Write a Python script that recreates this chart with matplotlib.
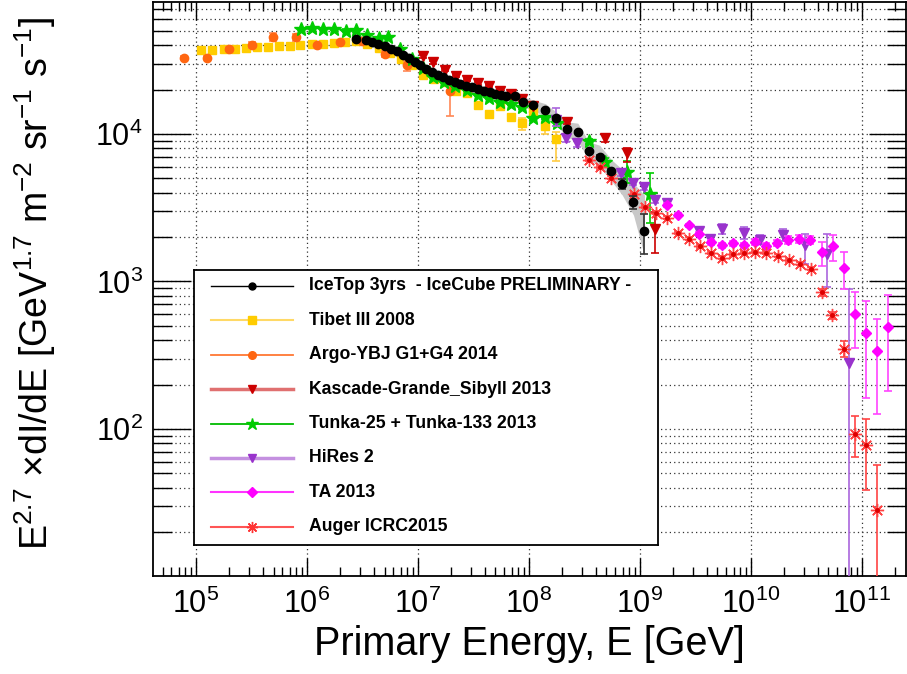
import numpy as np
import matplotlib
matplotlib.use("Agg")
import matplotlib.pyplot as plt
from matplotlib.ticker import LogLocator, LogFormatterSciNotation, NullFormatter, FixedLocator

plt.rcParams['font.family'] = ['Liberation Sans', 'DejaVu Sans']
plt.rcParams['mathtext.fontset'] = 'custom'
plt.rcParams['mathtext.rm'] = 'Liberation Sans'
plt.rcParams['mathtext.it'] = 'Liberation Sans:italic'
plt.rcParams['mathtext.bf'] = 'Liberation Sans:bold'

# ---- data (E in GeV, flux E^2.7 dI/dE) ----
icetopE = [2.79e6, 3.39e6, 3.89e6, 4.41e6, 5.02e6, 5.69e6, 6.44e6, 7.35e6, 8.32e6, 9.36e6,
           1.05e7, 1.18e7, 1.33e7, 1.51e7, 1.68e7, 1.91e7, 2.14e7, 2.41e7, 2.73e7, 3.05e7,
           3.48e7, 3.91e7, 4.43e7, 4.99e7, 5.60e7, 6.26e7, 7.43e7, 8.84e7, 1.10e8, 1.41e8,
           1.77e8, 2.22e8, 2.76e8, 3.47e8, 4.33e8, 5.52e8, 6.93e8, 8.76e8, 1.10e9]
icetopF = [4.41e4, 4.31e4, 4.21e4, 4.08e4, 3.93e4, 3.77e4, 3.63e4, 3.45e4, 3.27e4, 3.06e4,
           2.92e4, 2.76e4, 2.63e4, 2.52e4, 2.42e4, 2.33e4, 2.27e4, 2.19e4, 2.12e4, 2.08e4,
           2.01e4, 1.97e4, 1.92e4, 1.87e4, 1.84e4, 1.80e4, 1.81e4, 1.66e4, 1.57e4, 1.46e4,
           1.28e4, 1.08e4, 1.03e4, 7.7e3, 7.0e3, 5.6e3, 4.6e3, 3.44e3, 2.20e3]
icetopErrUp = [0.02] * 34 + [0.03, 0.04, 0.08, 0.10, 0.31]
icetopErrDn = [0.02] * 34 + [0.03, 0.04, 0.08, 0.10, 0.30]
# systematic band (fraction above / below)
icetopBandUp = [0.08] * 29 + [0.10, 0.10, 0.12, 0.15, 0.15, 0.20, 0.20, 0.25, 0.35, 0.75]
icetopBandDn = [0.08] * 29 + [0.10, 0.10, 0.12, 0.13, 0.13, 0.14, 0.14, 0.16, 0.18, 0.32]

tibetE = [1.11e5, 1.40e5, 1.79e5, 2.23e5, 2.82e5, 3.56e5, 4.48e5, 5.59e5, 7.02e5, 8.75e5,
          1.11e6, 1.39e6, 1.76e6, 2.21e6, 2.79e6, 3.51e6, 4.43e6, 5.57e6, 7.10e6, 8.90e6,
          1.10e7, 1.39e7, 1.74e7, 2.19e7, 2.77e7, 3.48e7, 4.37e7, 5.49e7, 6.94e7, 8.72e7,
          1.10e8, 1.41e8, 1.75e8]
tibetF = [3.73e4, 3.73e4, 3.77e4, 3.79e4, 3.83e4, 3.89e4, 3.91e4, 3.95e4, 3.95e4, 4.01e4,
          4.05e4, 4.09e4, 4.13e4, 4.18e4, 4.25e4, 4.07e4, 3.83e4, 3.57e4, 3.22e4, 2.93e4,
          2.52e4, 2.36e4, 2.24e4, 1.97e4, 1.91e4, 1.58e4, 1.37e4, 1.55e4, 1.31e4, 1.19e4,
          1.40e4, 1.13e4, 9.2e3]
tibetErrUp = [0.01] * 25 + [0.03, 0.04, 0.05, 0.05, 0.08, 0.06, 0.06, 0.13]
tibetErrDn = [0.01] * 25 + [0.03, 0.04, 0.05, 0.05, 0.10, 0.08, 0.12, 0.29]

argoE = [7.85e4, 1.26e5, 2.00e5, 3.17e5, 4.97e5, 7.90e5, 1.24e6, 1.98e6, 3.12e6, 5.06e6,
         7.98e6, 1.96e7]
argoF = [3.30e4, 3.30e4, 3.77e4, 4.03e4, 4.55e4, 4.52e4, 4.01e4, 4.18e4, 4.27e4, 3.50e4,
         2.93e4, 1.97e4]
argoErrUp = [0.02, 0.02, 0.03, 0.05, 0.06, 0.06, 0.02, 0.02, 0.02, 0.05, 0.06, 0.12]
argoErrDn = [0.02, 0.02, 0.03, 0.05, 0.06, 0.06, 0.02, 0.02, 0.02, 0.05, 0.08, 0.33]

kascadeE = [1.10e7, 1.38e7, 1.74e7, 2.19e7, 2.77e7, 3.48e7, 4.37e7, 5.49e7, 6.94e7, 8.72e7,
            1.10e8, 2.22e8, 4.90e8, 7.62e8, 1.38e9]
kascadeF = [3.36e4, 3.06e4, 2.72e4, 2.48e4, 2.33e4, 2.21e4, 2.12e4, 1.97e4, 1.87e4, 1.72e4,
            1.55e4, 1.21e4, 9.35e3, 7.46e3, 2.28e3]
kascadeErrUp = [0.02] * 11 + [0.03, 0.05, 0.07, 0.30]
kascadeErrDn = [0.02] * 11 + [0.03, 0.05, 0.13, 0.32]

tunkaE = [8.8e5, 1.11e6, 1.39e6, 1.76e6, 2.24e6, 2.79e6, 3.51e6, 4.43e6, 5.35e6, 6.95e6,
          8.8e6, 1.11e7, 1.37e7, 1.71e7, 2.18e7, 2.77e7, 3.48e7, 4.37e7, 5.49e7, 6.94e7,
          8.72e7, 1.10e8, 1.41e8, 1.79e8, 3.47e8, 4.90e8, 7.60e8, 1.24e9]
tunkaF = [5.15e4, 5.24e4, 5.15e4, 5.15e4, 5.02e4, 5.04e4, 4.69e4, 4.48e4, 4.52e4, 3.77e4,
          3.22e4, 2.80e4, 2.45e4, 2.27e4, 2.12e4, 1.99e4, 1.84e4, 1.75e4, 1.66e4, 1.60e4,
          1.52e4, 1.28e4, 1.30e4, 1.18e4, 8.9e3, 6.5e3, 5.5e3, 3.95e3]
tunkaErrUp = [0.02] * 24 + [0.04, 0.06, 0.20, 0.37]
tunkaErrDn = [0.02] * 24 + [0.04, 0.06, 0.15, 0.37]

hiresE = [1.74e8, 2.17e8, 2.71e8, 6.83e8, 8.63e8, 1.09e9, 1.37e9, 1.75e9, 3.44e9, 4.30e9,
          5.51e9, 8.63e9, 1.22e10, 1.93e10, 3.07e10, 4.85e10, 7.71e10]
hiresF = [1.25e4, 9.35e3, 8.73e3, 5.41e3, 4.67e3, 4.34e3, 3.56e3, 3.41e3, 2.19e3, 1.93e3,
          2.27e3, 2.14e3, 1.92e3, 2.08e3, 1.76e3, 1.53e3, 278]
hiresErrUp = [0.20, 0.06, 0.06, 0.04, 0.04, 0.04, 0.04, 0.04, 0.05, 0.06,
              0.08, 0.10, 0.07, 0.09, 0.20, 0.38, 2.20]
hiresErrDn = [0.10, 0.06, 0.06, 0.04, 0.04, 0.04, 0.04, 0.04, 0.05, 0.06,
              0.08, 0.10, 0.07, 0.09, 0.25, 0.40, 0.99]

taE = [1.75e9, 2.19e9, 2.75e9, 3.44e9, 4.39e9, 5.51e9, 6.87e9, 8.63e9, 1.09e10, 1.37e10,
       1.72e10, 2.16e10, 2.73e10, 3.43e10, 4.34e10, 5.45e10, 6.95e10, 8.73e10, 1.10e11,
       1.36e11, 1.71e11]
taF = [3.29e3, 2.81e3, 2.40e3, 2.11e3, 1.85e3, 1.76e3, 1.82e3, 1.76e3, 1.85e3, 1.74e3,
       1.83e3, 1.92e3, 1.95e3, 1.92e3, 1.58e3, 1.73e3, 1.23e3, 603, 450, 340, 489]
taErrUp = [0.03, 0.03, 0.03, 0.03, 0.04, 0.04, 0.04, 0.04, 0.05, 0.05,
           0.05, 0.06, 0.06, 0.06, 0.18, 0.20, 0.28, 0.40, 0.65, 0.64, 0.65]
taErrDn = [0.03, 0.03, 0.03, 0.03, 0.04, 0.04, 0.04, 0.04, 0.05, 0.05,
           0.05, 0.06, 0.06, 0.06, 0.19, 0.20, 0.28, 0.41, 0.64, 0.63, 0.63]

augerE = [3.47e8, 4.40e8, 5.52e8, 8.81e8, 1.11e9, 1.39e9, 1.75e9, 2.19e9, 2.76e9, 3.51e9,
          4.39e9, 5.51e9, 6.92e9, 8.75e9, 1.10e10, 1.38e10, 1.74e10, 2.19e10, 2.79e10, 3.48e10,
          4.37e10, 5.38e10, 6.84e10, 8.73e10, 1.09e11, 1.38e11]
augerF = [6.66e3, 5.93e3, 5.07e3, 3.91e3, 3.21e3, 2.93e3, 2.71e3, 2.13e3, 1.95e3, 1.73e3,
          1.56e3, 1.45e3, 1.53e3, 1.56e3, 1.58e3, 1.56e3, 1.50e3, 1.39e3, 1.32e3, 1.22e3,
          845, 588, 348, 93, 77.4, 28]
augerErrUp = [0.02] * 20 + [0.05, 0.06, 0.13, 0.31, 0.50, 1.02]
augerErrDn = [0.02] * 20 + [0.05, 0.06, 0.12, 0.31, 0.50, 0.99]

labels = ["IceTop 3yrs  - IceCube PRELIMINARY -", "Tibet III 2008", "Argo-YBJ G1+G4 2014",
          "Kascade-Grande_Sibyll 2013", "Tunka-25 + Tunka-133 2013", "HiRes 2", "TA 2013",
          "Auger ICRC2015"]

xTicks = [1e5, 1e6, 1e7, 1e8, 1e9, 1e10, 1e11]
yTicks = [1e2, 1e3, 1e4]

W, H = 907, 674
fig = plt.figure(figsize=(W / 100, H / 100), dpi=100)
axL, axR, axT, axB = 152.5, 906, 1.7, 576
ax = fig.add_axes([axL / W, 1 - axB / H, (axR - axL) / W, (axB - axT) / H])
ax.set_xscale('log')
ax.set_yscale('log')
ax.set_xlim(4.06e4, 2.5e11)
ax.set_ylim(10.05, 7.9e4)


def drawSet(E, F, up, dn, marker, color, ms, ecolor=None, z=3):
    E = np.array(E)
    F = np.array(F)
    yerr = [F * np.array(dn), F * np.array(up)]
    ax.errorbar(E, F, yerr=yerr, fmt='none', ecolor=ecolor or color, elinewidth=1.2,
                capsize=3, capthick=1.2, zorder=z)
    ax.plot(E, F, linestyle='none', marker=marker, color=color, ms=ms, mec=color, zorder=z)


# icetop systematic band
E = np.array(icetopE)
F = np.array(icetopF)
ax.fill_between(E, F * (1 - np.array(icetopBandDn)), F * (1 + np.array(icetopBandUp)),
                color='#c8c8c8', lw=0, zorder=2)

drawSet(tibetE, tibetF, tibetErrUp, tibetErrDn, 's', '#ffcc00', 6, '#ffcc44')
drawSet(argoE, argoF, argoErrUp, argoErrDn, 'o', '#ff6611', 6, '#ff8855')
drawSet(tunkaE, tunkaF, tunkaErrUp, tunkaErrDn, '*', '#00cc00', 10.5)
drawSet(kascadeE, kascadeF, kascadeErrUp, kascadeErrDn, 'v', '#cc0000', 6.5)
drawSet(hiresE, hiresF, hiresErrUp, hiresErrDn, 'v', '#9933cc', 6.5, '#aa66dd')
drawSet(taE, taF, taErrUp, taErrDn, 'D', '#ff00ff', 5.5, '#ff44ff')
drawSet(augerE, augerF, augerErrUp, augerErrDn, (8, 2, 0), '#ff4444', 9.5)
ax.plot(augerE, augerF, 'o', color='#dd0000', ms=2.5, zorder=3)
drawSet(icetopE, icetopF, icetopErrUp, icetopErrDn, 'o', 'black', 6, '#333333', z=4)

# axes style, root-like
ax.xaxis.set_major_locator(FixedLocator(xTicks))
ax.xaxis.set_minor_locator(LogLocator(base=10, subs=np.arange(2, 10), numticks=20))
ax.yaxis.set_major_locator(FixedLocator(yTicks))
ax.yaxis.set_minor_locator(LogLocator(base=10, subs=np.arange(2, 10), numticks=20))
ax.xaxis.set_major_formatter(LogFormatterSciNotation())
ax.yaxis.set_major_formatter(LogFormatterSciNotation())
ax.xaxis.set_minor_formatter(NullFormatter())
ax.yaxis.set_minor_formatter(NullFormatter())
ax.tick_params(which='both', direction='in', top=True, right=True, width=1, color='black')
ax.tick_params(axis='x', which='major', length=13, labelsize=22, pad=9)
ax.tick_params(axis='x', which='minor', length=6.5)
ax.tick_params(axis='y', which='major', length=27, labelsize=22, pad=7)
ax.tick_params(axis='y', which='minor', length=14)
for s in ax.spines.values():
    s.set_linewidth(1.3)

ax.grid(True, axis='x', which='major', linestyle=(0, (1, 2.5)), color='#333333', lw=0.9)
ax.grid(True, axis='y', which='both', linestyle=(0, (1, 2.5)), color='#333333', lw=0.9)
ax.set_axisbelow(True)

ax.set_xlabel("Primary Energy, E [GeV]", fontsize=28.5, labelpad=4)
ax.set_ylabel(r"E$^{2.7}$ $\times$dI/dE [GeV$^{1.7}$ m$^{-2}$ sr$^{-1}$ s$^{-1}$]", fontsize=27)
ax.yaxis.set_label_coords(-0.1257, 0.51)

# legend box drawn by hand
lx0, lx1, ly0, ly1 = 194, 658, 270, 545
lax = fig.add_axes([lx0 / W, 1 - ly1 / H, (lx1 - lx0) / W, (ly1 - ly0) / H])
lax.set_xlim(lx0, lx1)
lax.set_ylim(ly1, ly0)
lax.set_xticks([])
lax.set_yticks([])
lax.set_facecolor('white')
for s in lax.spines.values():
    s.set_linewidth(1.3)
lax.set_zorder(10)

legLine = ['black', '#ffd966', '#ff7733', '#e07070', '#00bb00', '#c490e0', '#ff33ff', '#ff5555']
legLw = [1.0, 1.5, 1.3, 2.5, 1.3, 2.5, 1.5, 1.5]
legMark = ['o', 's', 'o', 'v', '*', 'v', 'D', (8, 2, 0)]
legMc = ['black', '#ffcc00', '#ff6611', '#cc0000', '#00cc00', '#9933cc', '#ff00ff', '#ff3333']
legMs = [5, 5.5, 5.5, 6, 9, 6, 5, 8]
for i, lab in enumerate(labels):
    y = 286 + 34.4 * i
    lax.plot([210.7, 293.3], [y, y], color=legLine[i], lw=legLw[i])
    lax.plot([251.7], [y], marker=legMark[i], color=legMc[i], ms=legMs[i], mec=legMc[i])
    lax.text(309.3, y, lab, fontsize=12.7, fontweight='bold', va='center', ha='left')

fig.savefig("out.png", dpi=100)
